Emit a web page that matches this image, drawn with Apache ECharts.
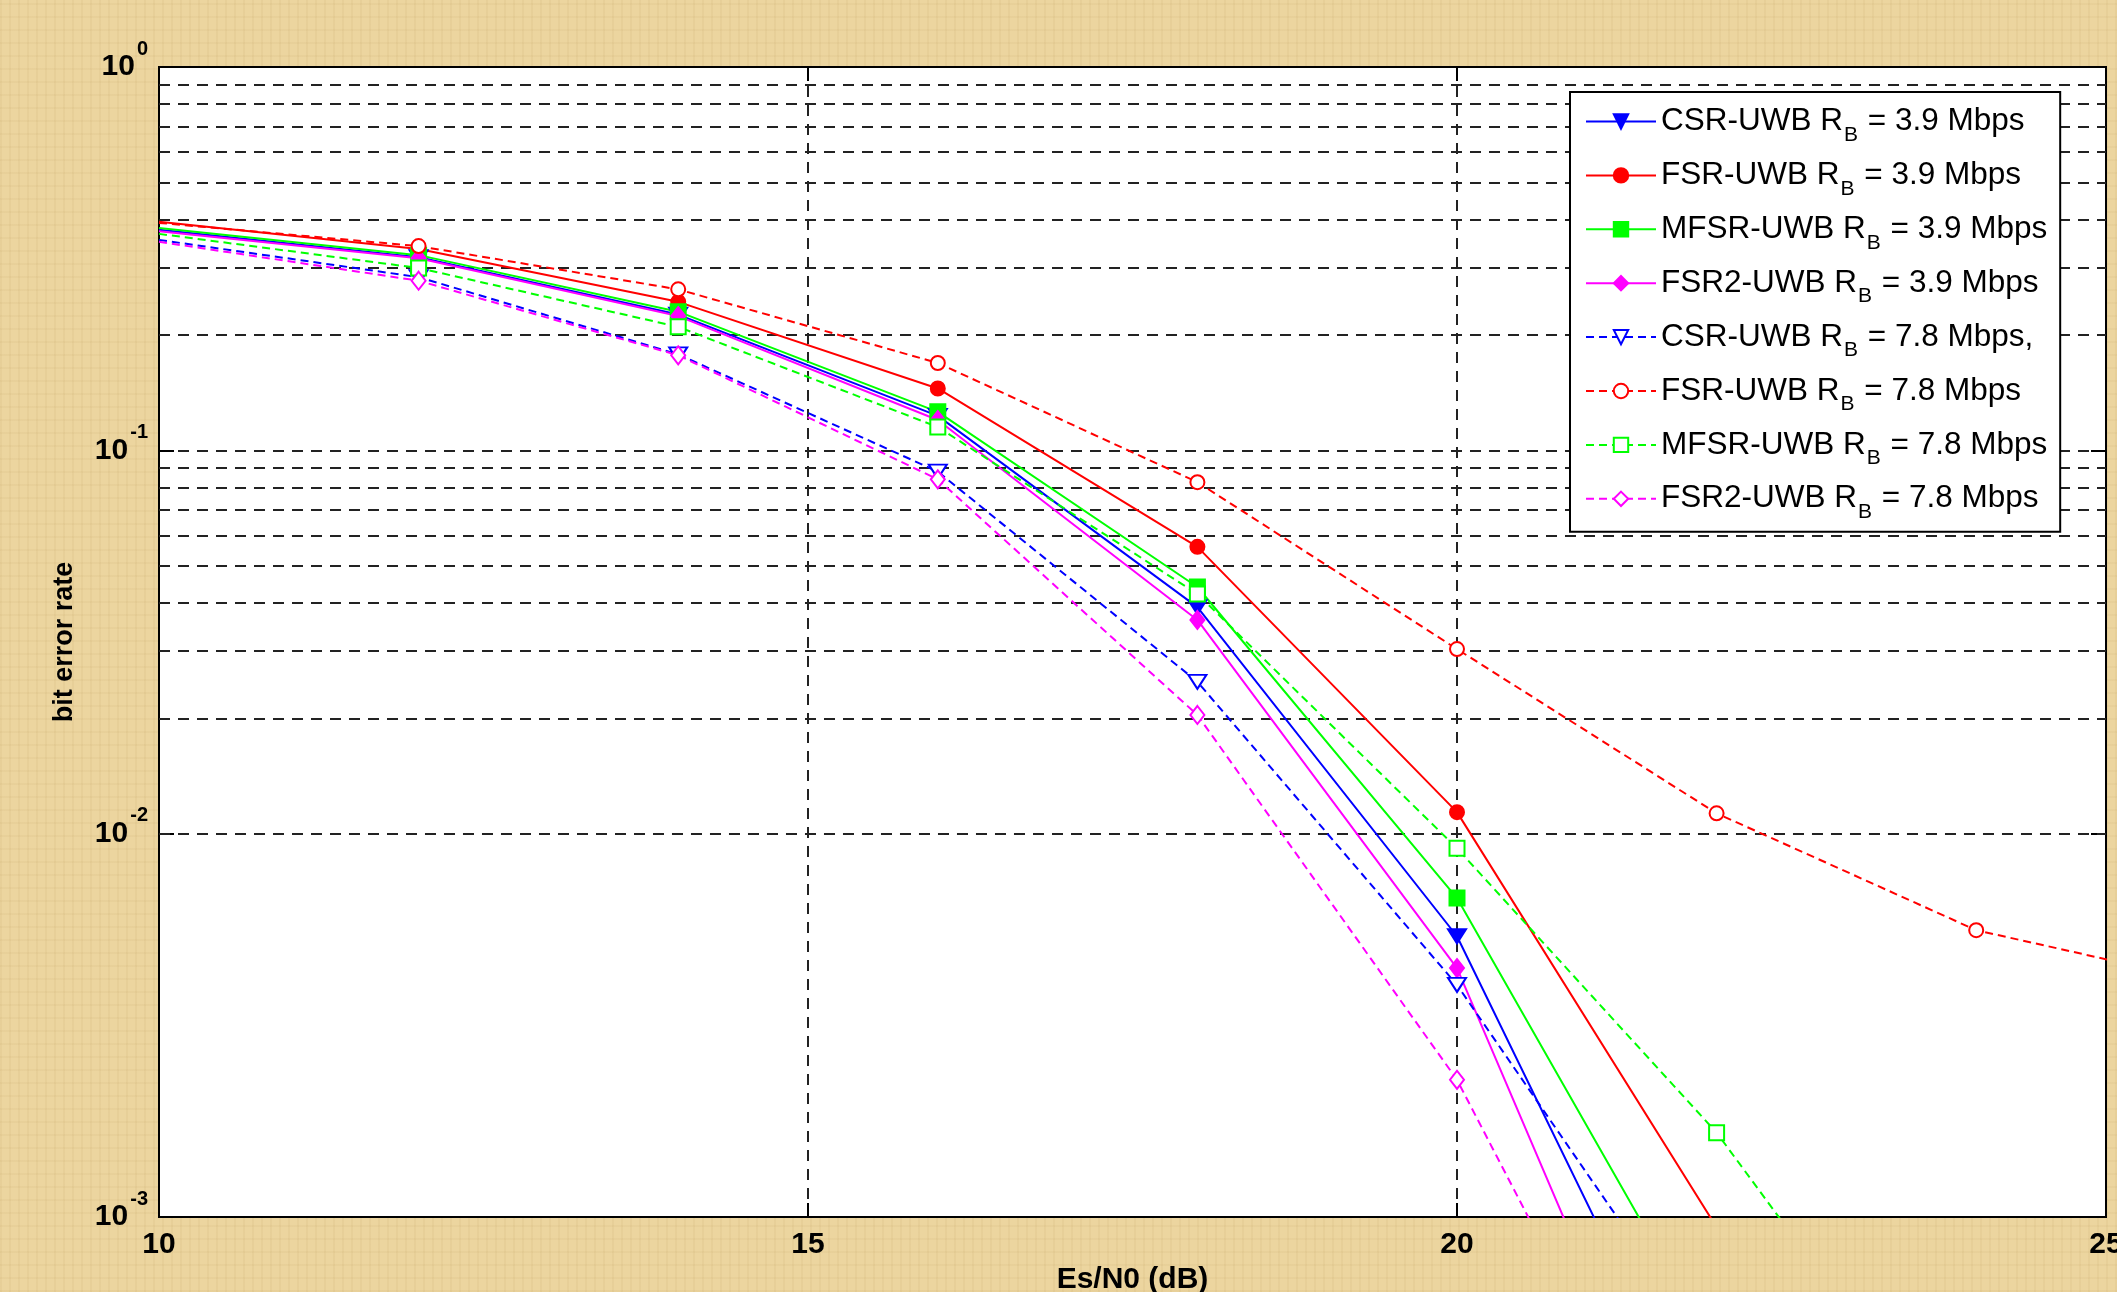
<!DOCTYPE html>
<html>
<head>
<meta charset="utf-8">
<script src="https://cdn.jsdelivr.net/npm/echarts@6/dist/echarts.min.js"></script>
<style>
    html, body {
        margin: 0;
        padding: 0;
    }
    body {
        background-color: #ecd59f;
        background-image:
            repeating-linear-gradient(90deg, rgba(150, 110, 40, 0.06) 0 2px, transparent 2px 9px),
            repeating-linear-gradient(0deg, rgba(150, 110, 40, 0.05) 0 2px, transparent 2px 13px);
    }
    #chart {
        width: 2117px;
        height: 1292px;
    }
</style>
</head>
<body>
<div id="chart"></div>
<script>
// Es/N0 (dB) at the plotted points
const snr = [10, 12, 14, 16, 18, 20, 22, 24, 26]

// bit error rate (points below 1e-3 / right of 25 dB fall outside the axes)
const csr39 = [0.376, 0.319, 0.226, 0.123, 0.0390, 0.0054, 0.00022]
const fsr39 = [0.395, 0.335, 0.244, 0.145, 0.0560, 0.01138, 0.00094]
const mfsr39 = [0.380, 0.323, 0.230, 0.126, 0.0440, 0.00679, 0.00044]
const fsr239 = [0.373, 0.317, 0.224, 0.120, 0.0361, 0.00446, 0.000116]
const csr78 = [0.354, 0.283, 0.178, 0.088, 0.0249, 0.00403, 0.00042]
const fsr78 = [0.392, 0.341, 0.263, 0.169, 0.0826, 0.0303, 0.0113, 0.0056, 0.00395]
const mfsr78 = [0.367, 0.299, 0.210, 0.115, 0.0422, 0.00916, 0.00166, 0.0002]
const fsr278 = [0.350, 0.277, 0.177, 0.084, 0.0204, 0.00228, 0.000113]

const xTicks = [10, 15, 20, 25]
const yDecades = [0.001, 0.01, 0.1, 1]
const minorSteps = [2, 3, 4, 5, 6, 7, 8, 9]

const fontFamily = '"Liberation Sans", Arial, sans-serif'
const gridDash = [11, 8]

const chart = echarts.init(document.getElementById('chart'))

// minor (2..9) grid lines of every decade
const minorLines = []
yDecades.slice(0, 3).forEach(d => {
    minorSteps.forEach(m => minorLines.push({ yAxis: +(d * m).toPrecision(3) }))
})

const makeSeries = (name, values, color, symbol, size, dashed, rotate) => ({
    name: name,
    type: 'line',
    z: 3,
    clip: true,
    data: values.map((v, i) => (i === 0
        ? { value: [snr[i], v], symbol: 'none' }
        : [snr[i], v])),
    symbol: symbol,
    symbolSize: size,
    symbolRotate: rotate || 0,
    lineStyle: {
        color: color,
        width: 2,
        type: dashed ? [8, 5] : 'solid'
    },
    itemStyle: {
        color: color,
        borderColor: color,
        borderWidth: 2
    },
    emphasis: { disabled: true }
})

const seriesList = [
    makeSeries('CSR-UWB R_B = 3.9 Mbps', csr39, '#0000ff', 'triangle', [18, 14], false, 180),
    makeSeries('FSR-UWB R_B = 3.9 Mbps', fsr39, '#ff0000', 'circle', 14, false),
    makeSeries('MFSR-UWB R_B = 3.9 Mbps', mfsr39, '#00ff00', 'rect', 15, false),
    makeSeries('FSR2-UWB R_B = 3.9 Mbps', fsr239, '#ff00ff', 'diamond', [14, 18], false),
    makeSeries('CSR-UWB R_B = 7.8 Mbps,', csr78, '#0000ff', 'emptyTriangle', [18, 14], true, 180),
    makeSeries('FSR-UWB R_B = 7.8 Mbps', fsr78, '#ff0000', 'emptyCircle', 14, true),
    makeSeries('MFSR-UWB R_B = 7.8 Mbps', mfsr78, '#00ff00', 'emptyRect', 15, true),
    makeSeries('FSR2-UWB R_B = 7.8 Mbps', fsr278, '#ff00ff', 'emptyDiamond', [14, 18], true)
]

const option = {
    animation: false,
    backgroundColor: 'transparent',
    textStyle: { fontFamily: fontFamily },
    grid: {
        left: 159,
        top: 67,
        right: 11,
        bottom: 75,
        outerBoundsMode: 'none',
        containLabel: false,
        show: true,
        backgroundColor: '#ffffff',
        borderColor: '#000000',
        borderWidth: 2
    },
    legend: {
        data: seriesList.map(s => s.name),
        orient: 'vertical',
        left: 1570,
        top: 92,
        z: 10,
        padding: [13.5, 13, 9, 15],
        itemWidth: 70,
        itemHeight: 18,
        itemGap: 13.9,
        backgroundColor: '#ffffff',
        borderColor: '#000000',
        borderWidth: 2,
        borderRadius: 0,
        selectedMode: false,
        formatter: name => {
            const parts = name.split('R_B')
            return '{m|' + parts[0] + 'R}{s|B}{m|' + parts[1] + '}'
        },
        textStyle: {
            color: '#000',
            fontFamily: fontFamily,
            fontSize: 31.5,
            rich: {
                m: { fontSize: 31.5, lineHeight: 48, color: '#000', fontFamily: fontFamily },
                s: { fontSize: 21, lineHeight: 48, verticalAlign: 'bottom', color: '#000', fontFamily: fontFamily, padding: [0, 1, 0, 1] }
            }
        }
    },
    xAxis: [
        {
            type: 'value',
            min: xTicks[0],
            max: xTicks[xTicks.length - 1],
            interval: 5,
            name: 'Es/N0 (dB)',
            nameLocation: 'middle',
            nameGap: 45,
            nameTextStyle: { color: '#000', fontSize: 30, fontWeight: 'bold', fontFamily: fontFamily },
            axisLine: { show: true, lineStyle: { color: '#000', width: 2 } },
            axisTick: { show: true, inside: true, length: 14, lineStyle: { color: '#000', width: 2 } },
            axisLabel: {
                color: '#000',
                fontSize: 30,
                fontWeight: 'bold',
                fontFamily: fontFamily,
                margin: 13,
                showMinLabel: true,
                showMaxLabel: true
            },
            splitLine: { show: true, lineStyle: { color: '#222', width: 2, type: gridDash } }
        },
        {
            type: 'value',
            position: 'top',
            min: xTicks[0],
            max: xTicks[xTicks.length - 1],
            interval: 5,
            axisLine: { show: true, lineStyle: { color: '#000', width: 2 } },
            axisTick: { show: true, inside: true, length: 14, lineStyle: { color: '#000', width: 2 } },
            axisLabel: { show: false },
            splitLine: { show: false }
        }
    ],
    yAxis: [
        {
            type: 'log',
            logBase: 10,
            min: yDecades[0],
            max: yDecades[yDecades.length - 1],
            name: 'bit error rate',
            nameLocation: 'middle',
            nameGap: 81,
            nameTextStyle: { color: '#000', fontSize: 27, fontWeight: 'bold', fontFamily: fontFamily },
            axisLine: { show: true, lineStyle: { color: '#000', width: 2 } },
            axisTick: { show: true, inside: true, length: 15, lineStyle: { color: '#000', width: 2 } },
            axisLabel: {
                color: '#000',
                margin: 11,
                formatter: v => '{b|10}{s|' + Math.round(Math.log10(v)) + '}',
                rich: {
                    b: { fontSize: 30, fontWeight: 'bold', color: '#000', fontFamily: fontFamily },
                    s: { fontSize: 20, fontWeight: 'bold', color: '#000', fontFamily: fontFamily, padding: [0, 0, 36, 2] }
                }
            },
            splitLine: { show: true, lineStyle: { color: '#222', width: 2, type: gridDash } }
        },
        {
            type: 'log',
            logBase: 10,
            position: 'right',
            min: yDecades[0],
            max: yDecades[yDecades.length - 1],
            axisLine: { show: true, lineStyle: { color: '#000', width: 2 } },
            axisTick: { show: true, inside: true, length: 15, lineStyle: { color: '#000', width: 2 } },
            axisLabel: { show: false },
            splitLine: { show: false }
        }
    ],
    series: [
        {
            name: 'grid',
            type: 'line',
            z: 1,
            data: [],
            silent: true,
            markLine: {
                z: 1,
                silent: true,
                symbol: ['none', 'none'],
                label: { show: false },
                lineStyle: { color: '#222', width: 2, type: gridDash },
                emphasis: { disabled: true },
                data: minorLines
            }
        }
    ].concat(seriesList)
}

chart.setOption(option)

window.addEventListener('resize', () => {
    chart.resize()
})
</script>
</body>
</html>
